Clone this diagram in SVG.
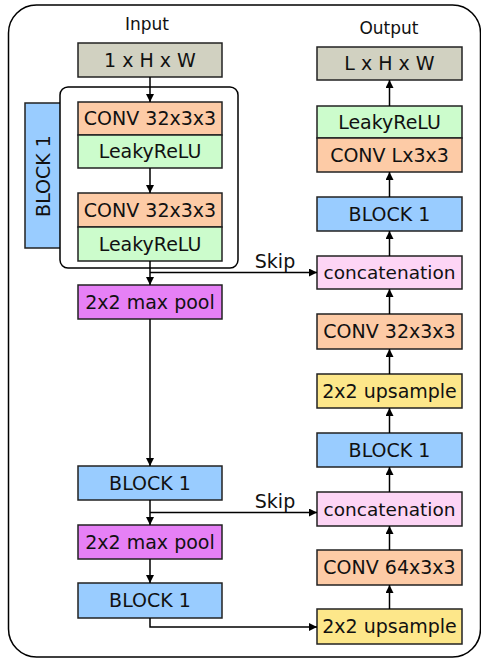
<svg xmlns="http://www.w3.org/2000/svg" width="481" height="658" viewBox="0 0 481 658">
<defs>
<marker id="ah" viewBox="0 0 10 10" refX="10" refY="5" markerWidth="8" markerHeight="8" markerUnits="userSpaceOnUse" orient="auto">
<path d="M0,0 L10,5 L0,10 Z" fill="#000"/>
</marker>
<style>
.b{stroke:#222;stroke-width:1.5}
.t{font-family:"DejaVu Sans",Verdana,sans-serif;font-size:19px;fill:#111;text-anchor:middle}
.lbl{font-family:"DejaVu Sans",Verdana,sans-serif;font-size:17px;fill:#111;text-anchor:middle}
.gray{fill:#d1d1c1}.conv{fill:#fdcba6}.relu{fill:#ccfccc}.blk{fill:#99ccff}.pool{fill:#e680f6}.up{fill:#fde78a}.cat{fill:#fdd5f5}
.c{stroke:#000;stroke-width:1.5;fill:none}
.ca{stroke:#000;stroke-width:1.5;fill:none;marker-end:url(#ah)}
</style>
</defs>
<rect x="8.5" y="5" width="472" height="652" rx="28" fill="#fff" stroke="#000" stroke-width="1.5"/>
<text class="lbl" x="147" y="30">Input</text>
<text class="lbl" x="389" y="34">Output</text>

<g id="block1-side"><rect class="b blk" x="25" y="103" width="37" height="145"/><text class="t" transform="translate(49.5,176) rotate(-90)">BLOCK 1</text></g>
<g id="block1-container"><rect x="60" y="87" width="178" height="181" rx="8" fill="#fff" stroke="#000" stroke-width="1.5"/></g>

<g id="input"><rect class="b gray" x="78" y="43" width="144" height="34"/><text class="t" x="150" y="66.5">1 x H x W</text></g>
<g id="conv1"><rect class="b conv" x="78" y="102" width="144" height="33"/><text class="t" x="150" y="125">CONV 32x3x3</text></g>
<g id="relu1"><rect class="b relu" x="78" y="135" width="144" height="33"/><text class="t" x="150" y="158">LeakyReLU</text></g>
<g id="conv2"><rect class="b conv" x="78" y="193" width="144" height="34"/><text class="t" x="150" y="216.5">CONV 32x3x3</text></g>
<g id="relu2"><rect class="b relu" x="78" y="227" width="144" height="34"/><text class="t" x="150" y="250.5">LeakyReLU</text></g>
<g id="pool1"><rect class="b pool" x="78" y="285" width="144" height="34"/><text class="t" x="150" y="308.5">2x2 max pool</text></g>
<g id="block-l2"><rect class="b blk" x="78" y="466" width="144" height="34"/><text class="t" x="150" y="489.5">BLOCK 1</text></g>
<g id="pool2"><rect class="b pool" x="78" y="525" width="144" height="34"/><text class="t" x="150" y="548.5">2x2 max pool</text></g>
<g id="block-l3"><rect class="b blk" x="78" y="583" width="144" height="35"/><text class="t" x="150" y="607">BLOCK 1</text></g>

<g id="output"><rect class="b gray" x="317" y="47" width="145" height="33"/><text class="t" x="389.5" y="70">L x H x W</text></g>
<g id="relu-out"><rect class="b relu" x="317" y="106" width="145" height="32"/><text class="t" x="389.5" y="128.5">LeakyReLU</text></g>
<g id="conv-out"><rect class="b conv" x="317" y="138" width="145" height="34"/><text class="t" x="389.5" y="161.5">CONV Lx3x3</text></g>
<g id="block-r1"><rect class="b blk" x="317" y="197" width="145" height="34"/><text class="t" x="389.5" y="220.5">BLOCK 1</text></g>
<g id="cat1"><rect class="b cat" x="317" y="256" width="145" height="33"/><text class="t" x="389.5" y="279" style="font-size:18.5px">concatenation</text></g>
<g id="conv-r32"><rect class="b conv" x="317" y="314" width="145" height="35"/><text class="t" x="389.5" y="338">CONV 32x3x3</text></g>
<g id="up1"><rect class="b up" x="317" y="374" width="145" height="34"/><text class="t" x="389.5" y="397.5">2x2 upsample</text></g>
<g id="block-r2"><rect class="b blk" x="317" y="433" width="145" height="34"/><text class="t" x="389.5" y="456.5">BLOCK 1</text></g>
<g id="cat2"><rect class="b cat" x="317" y="492" width="145" height="34"/><text class="t" x="389.5" y="515.5" style="font-size:18.5px">concatenation</text></g>
<g id="conv-r64"><rect class="b conv" x="317" y="550" width="145" height="35"/><text class="t" x="389.5" y="574">CONV 64x3x3</text></g>
<g id="up2"><rect class="b up" x="317" y="609" width="145" height="35"/><text class="t" x="389.5" y="633">2x2 upsample</text></g>

<g id="connectors">
<line class="ca" x1="150" y1="77" x2="150" y2="102"/>
<line class="ca" x1="150" y1="168" x2="150" y2="193"/>
<line class="ca" x1="150" y1="268" x2="150" y2="285"/>
<line class="c" x1="150" y1="261" x2="150" y2="268"/>
<polyline class="ca" points="150,272.5 317,272.5"/>
<line class="ca" x1="150" y1="319" x2="150" y2="466"/>
<line class="ca" x1="150" y1="500" x2="150" y2="525"/>
<polyline class="ca" points="150,512.5 317,512.5"/>
<line class="ca" x1="150" y1="559" x2="150" y2="583"/>
<polyline class="ca" points="150,618 150,627 317,627"/>
<line class="ca" x1="389.5" y1="609" x2="389.5" y2="585"/>
<line class="ca" x1="389.5" y1="550" x2="389.5" y2="526"/>
<line class="ca" x1="389.5" y1="492" x2="389.5" y2="467"/>
<line class="ca" x1="389.5" y1="433" x2="389.5" y2="408"/>
<line class="ca" x1="389.5" y1="374" x2="389.5" y2="349"/>
<line class="ca" x1="389.5" y1="314" x2="389.5" y2="289"/>
<line class="ca" x1="389.5" y1="256" x2="389.5" y2="231"/>
<line class="ca" x1="389.5" y1="197" x2="389.5" y2="172"/>
<line class="ca" x1="389.5" y1="106" x2="389.5" y2="80"/>
<text class="t" x="275" y="268">Skip</text>
<text class="t" x="275" y="508">Skip</text>
</g>
</svg>
